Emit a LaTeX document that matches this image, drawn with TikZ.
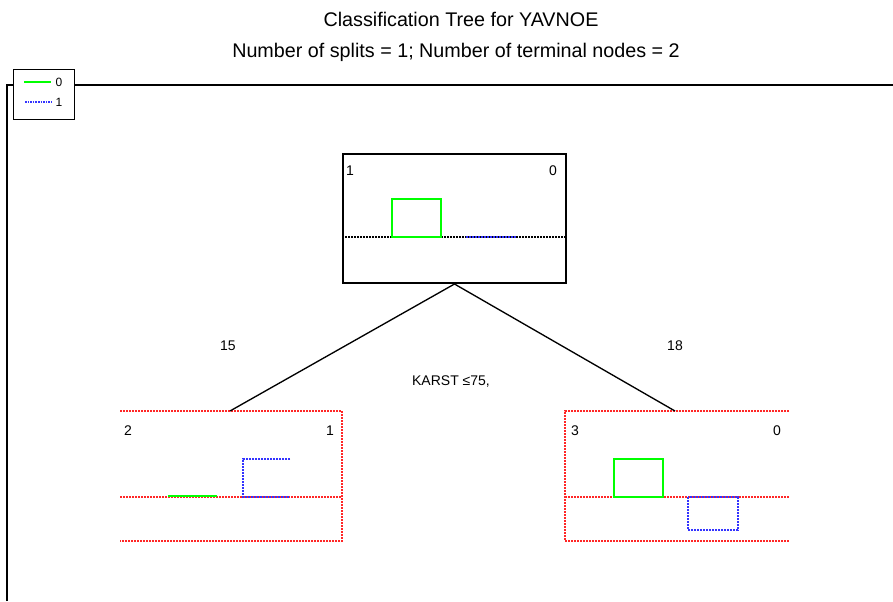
\documentclass[tikz,border=0pt]{standalone}
\usepackage{fontspec}
\setmainfont{Liberation Sans}
\begin{document}
\begin{tikzpicture}[x=0.75pt,y=-0.75pt,
  lbl/.style={font=\fontsize{10.5}{12}\selectfont, inner sep=0pt},
  ttl/.style={font=\fontsize{14.8}{17}\selectfont, inner sep=0pt},
  dotln/.style={line width=1.2pt, dash pattern=on 1.5pt off 0.75pt},
  reddot/.style={dotln, draw=red!85!white},
  bluedot/.style={dotln, draw=blue!80!white},
  blackdot/.style={dotln, draw=black},
  greenln/.style={draw=green, line width=1.4pt},
  frameln/.style={draw=black, line width=1pt},
  conn/.style={draw=black, line width=1pt}]
\useasboundingbox (0,0) rectangle (893,601);
\fill[white] (0,0) rectangle (893,601);
% titles
\node[ttl] (t1) at (461,19) {Classification Tree for YAVNOE};
\node[ttl] (t2) at (456,52) {Number of splits = 1; Number of terminal nodes = 2};
% frame
\draw[frameln] (7,601) -- (7,85) -- (13,85);
\draw[frameln] (74,85) -- (893,85);
% legend
\node[draw, line width=1pt, minimum width=61*0.75pt, minimum height=50*0.75pt, anchor=north west, inner sep=0pt, fill=white] (leg) at (13,69) {};
\coordinate (lg0a) at (24,82); \coordinate (lg0b) at (51,82);
\coordinate (lg1a) at (25,102); \coordinate (lg1b) at (52,102);
\draw[greenln, line width=1.1pt] (lg0a) -- (lg0b);
\draw[bluedot, line width=0.9pt, dash pattern=on 1.2pt off 0.75pt] (lg1a) -- (lg1b);
\node[lbl, font=\fontsize{9}{10}\selectfont] (lg0) at (59,82) {0};
\node[lbl, font=\fontsize{9}{10}\selectfont] (lg1) at (59,102) {1};
% root node
\node[draw, line width=1.5pt, minimum width=223*0.75pt, minimum height=129*0.75pt, anchor=north west, inner sep=0pt] (root) at (342,153) {};
\draw[blackdot] (342,237) -- (565,237);
\draw[bluedot] (466,237) -- (517,237);
\draw[greenln] (392,199) rectangle (441,237);
\node[lbl] (r1) at (350,171) {1};
\node[lbl] (r0) at (553,171) {0};
% leaves
\coordinate (ltop) at (230,411);
\coordinate (rtop) at (675,411);
\draw[reddot] (120,411) -- (342,411) -- (342,541) -- (120,541);
\draw[reddot] (120,497) -- (342,497);
\draw[greenln] (168,496) -- (217,496);
\draw[bluedot] (290,459) -- (243,459) -- (243,497) -- (290,497);
\node[lbl] (l2) at (128,431) {2};
\node[lbl] (l1) at (330,431) {1};
\draw[reddot] (789,411) -- (565,411) -- (565,541) -- (789,541);
\draw[reddot] (565,497) -- (789,497);
\draw[greenln] (614,459) rectangle (663,497);
\draw[bluedot] (688,497) rectangle (738,530);
\node[lbl] (r3) at (575,431) {3};
\node[lbl] (r0b) at (777,431) {0};
% connectors
\draw[conn] (root.south) -- (ltop);
\draw[conn] (root.south) -- (rtop);
\node[lbl] (n15) at (228,346) {15};
\node[lbl] (n18) at (675,346) {18};
\node[lbl] (split) at (451,381) {KARST ≤75,};
\end{tikzpicture}
\end{document}
